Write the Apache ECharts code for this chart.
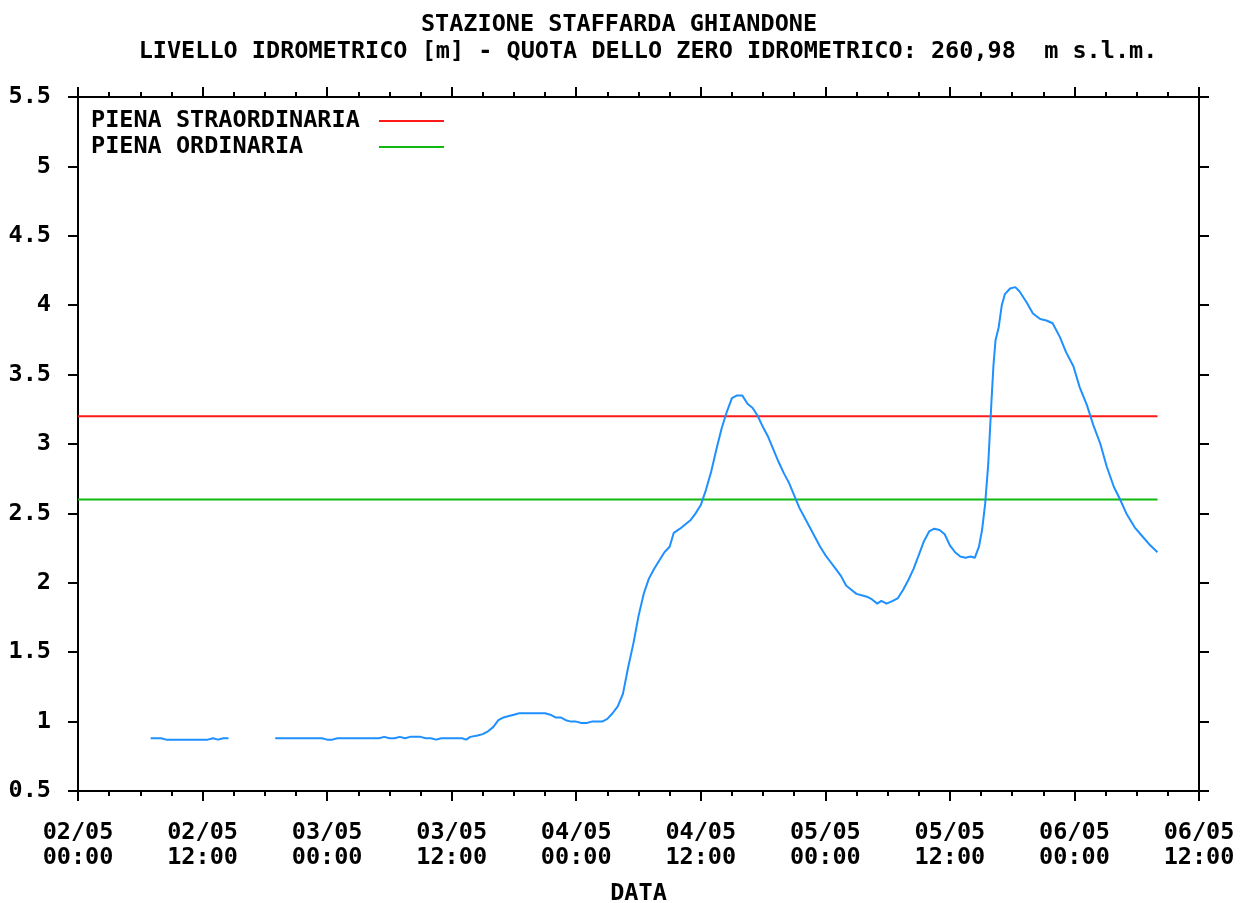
<!DOCTYPE html>
<html>
<head>
<meta charset="utf-8">
<script src="https://cdn.jsdelivr.net/npm/echarts@6/dist/echarts.min.js"></script>
<style>
  html, body { margin: 0; padding: 0; background: #ffffff; }
  #chart { width: 1243px; height: 903px; }
</style>
</head>
<body>
<div id="chart"></div>
<script>
// Hours elapsed since 02/05 00:00 and the hydrometric level [m] at each reading.
// A null level marks the gap in the recordings.
const hours = [
  7, 8, 8.5, 12.5, 13, 13.5, 14, 14.5,
  16.5,
  19, 23.5, 24, 24.5, 25, 29, 29.5, 30, 30.5, 31, 31.5, 32, 33, 33.5, 34, 34.5, 35, 37, 37.4, 37.8,
  38.5, 39, 39.5, 40, 40.5, 41, 41.5, 42, 42.5, 45, 45.5, 46, 46.5, 47, 47.5, 48, 48.5, 49, 49.5, 50.5,
  51, 51.5, 52, 52.5, 53, 53.5, 54, 54.5, 55, 55.5, 56, 56.5, 57, 57.4, 58, 58.5, 59, 59.5, 60, 60.5,
  61, 61.5, 62, 62.5, 63, 63.5, 64, 64.5, 65, 65.5, 66, 66.5, 67, 67.5, 68, 68.5, 69, 69.5, 70, 70.5,
  71, 71.5, 72, 72.5, 73, 73.5, 74, 74.5, 75, 75.5, 76, 76.5, 77, 77.4, 77.9, 78.5, 79, 79.5, 80, 80.5,
  81, 81.5, 82, 82.5, 83, 83.5, 84, 84.5, 85, 85.5, 86, 86.4, 86.8, 87.1, 87.4, 87.7, 88, 88.2, 88.4,
  88.7, 89, 89.3, 89.8, 90.3, 90.7, 91.4, 92, 92.7, 93.3, 93.9, 94.6, 95.2, 95.9, 96.5, 97.2, 97.8,
  98.5, 99.1, 99.8, 100.4, 101, 101.8, 102.6, 103.3, 104
];
const levels = [
  0.88, 0.88, 0.87, 0.87, 0.88, 0.87, 0.88, 0.88,
  null,
  0.88, 0.88, 0.87, 0.87, 0.88, 0.88, 0.89, 0.88, 0.88, 0.89, 0.88, 0.89, 0.89, 0.88, 0.88, 0.87, 0.88, 0.88, 0.87, 0.89,
  0.90, 0.91, 0.93, 0.96, 1.01, 1.03, 1.04, 1.05, 1.06, 1.06, 1.05, 1.03, 1.03, 1.01, 1.00, 1.00, 0.99, 0.99, 1.00, 1.00,
  1.02, 1.06, 1.11, 1.20, 1.39, 1.56, 1.76, 1.92, 2.03, 2.10, 2.16, 2.22, 2.26, 2.36, 2.39, 2.42, 2.45, 2.50, 2.56, 2.67,
  2.80, 2.96, 3.11, 3.23, 3.33, 3.35, 3.35, 3.29, 3.26, 3.20, 3.12, 3.05, 2.96, 2.87, 2.79, 2.72, 2.63, 2.54, 2.47, 2.40,
  2.33, 2.26, 2.20, 2.15, 2.10, 2.05, 1.98, 1.95, 1.92, 1.91, 1.90, 1.88, 1.85, 1.87, 1.85, 1.87, 1.89, 1.95, 2.02, 2.10,
  2.20, 2.30, 2.37, 2.39, 2.38, 2.35, 2.27, 2.22, 2.19, 2.18, 2.19, 2.18, 2.26, 2.38, 2.57, 2.86, 3.30, 3.57, 3.75,
  3.84, 4.00, 4.08, 4.12, 4.13, 4.10, 4.02, 3.94, 3.90, 3.89, 3.87, 3.77, 3.66, 3.56, 3.41, 3.28, 3.14,
  3.00, 2.84, 2.69, 2.60, 2.50, 2.40, 2.33, 2.27, 2.22
];

// Flood thresholds [m]
const thresholdNames = ['PIENA STRAORDINARIA', 'PIENA ORDINARIA'];
const thresholdLevels = [3.2, 2.6];
const thresholdSpan = [0, 104];

// Time axis tick labels, one every 12 hours
const xTickLabels = [
  '02/05\n00:00', '02/05\n12:00', '03/05\n00:00', '03/05\n12:00', '04/05\n00:00',
  '04/05\n12:00', '05/05\n00:00', '05/05\n12:00', '06/05\n00:00', '06/05\n12:00'
];

const titleLine1 = 'STAZIONE STAFFARDA GHIANDONE';
const titleLine2 = 'LIVELLO IDROMETRICO [m] - QUOTA DELLO ZERO IDROMETRICO: 260,98  m s.l.m.';
const xAxisName = 'DATA';

const FONT = '"DejaVu Sans Mono", "Liberation Mono", monospace';
const FS = 23.5;
const INK = '#000000';

const levelData = hours.map((h, i) => [h, levels[i]]);

const baseX = {
  type: 'value',
  min: 0,
  max: 108,
  interval: 12,
  axisLine: { show: true, onZero: false, lineStyle: { color: INK, width: 2 } },
  axisTick: { show: true, inside: false, length: 10, lineStyle: { color: INK, width: 2 } },
  minorTick: { show: true, splitNumber: 4, length: 5, lineStyle: { color: INK, width: 2 } },
  splitLine: { show: false },
  minorSplitLine: { show: false }
};
const baseY = {
  type: 'value',
  min: 0.5,
  max: 5.5,
  interval: 0.5,
  axisLine: { show: true, onZero: false, lineStyle: { color: INK, width: 2 } },
  axisTick: { show: true, inside: false, length: 10, lineStyle: { color: INK, width: 2 } },
  splitLine: { show: false }
};

const chart = echarts.init(document.getElementById('chart'), null, { renderer: 'canvas' });
chart.setOption({
  animation: false,
  backgroundColor: '#ffffff',
  title: [
    {
      text: titleLine1, left: 614, top: 8, textAlign: 'center',
      textStyle: { fontFamily: FONT, fontSize: FS, fontWeight: 'bold', color: INK }
    },
    {
      text: titleLine2, left: 643, top: 35, textAlign: 'center',
      textStyle: { fontFamily: FONT, fontSize: FS, fontWeight: 'bold', color: INK }
    }
  ],
  legend: {
    orient: 'vertical',
    left: 91,
    top: 108,
    align: 'right',
    icon: 'rect',
    itemWidth: 65,
    itemHeight: 2,
    itemGap: 0,
    padding: 0,
    data: thresholdNames,
    formatter: name => name.padEnd(20, ' '),
    textStyle: { fontFamily: FONT, fontSize: FS, fontWeight: 'bold', color: INK, lineHeight: 26 }
  },
  grid: { left: 78, right: 44, top: 97, bottom: 112, containLabel: false, outerBoundsMode: 'none' },
  xAxis: [
    Object.assign({}, baseX, {
      position: 'bottom',
      name: xAxisName,
      nameLocation: 'middle',
      nameGap: 91,
      nameTextStyle: { fontFamily: FONT, fontSize: FS, fontWeight: 'bold', color: INK },
      axisLabel: {
        show: true, margin: 29, showMinLabel: true, showMaxLabel: true,
        fontFamily: FONT, fontSize: FS, fontWeight: 'bold', color: INK, lineHeight: 25,
        formatter: v => xTickLabels[Math.round(v / 12)] || ''
      }
    }),
    Object.assign({}, baseX, { position: 'top', axisLabel: { show: false } })
  ],
  yAxis: [
    Object.assign({}, baseY, {
      position: 'left',
      axisLabel: {
        show: true, margin: 27,
        fontFamily: FONT, fontSize: FS, fontWeight: 'bold', color: INK
      }
    }),
    Object.assign({}, baseY, { position: 'right', axisLabel: { show: false } })
  ],
  series: [
    {
      name: thresholdNames[0],
      type: 'line',
      symbol: 'none',
      silent: true,
      color: '#ff1a1a',
      lineStyle: { color: '#ff1a1a', width: 2 },
      data: thresholdSpan.map(h => [h, thresholdLevels[0]])
    },
    {
      name: thresholdNames[1],
      type: 'line',
      symbol: 'none',
      silent: true,
      color: '#10b810',
      lineStyle: { color: '#10b810', width: 2 },
      data: thresholdSpan.map(h => [h, thresholdLevels[1]])
    },
    {
      name: 'LIVELLO',
      type: 'line',
      symbol: 'none',
      connectNulls: false,
      color: '#1e90ff',
      lineStyle: { color: '#1e90ff', width: 2 },
      data: levelData
    }
  ]
});
</script>
</body>
</html>
